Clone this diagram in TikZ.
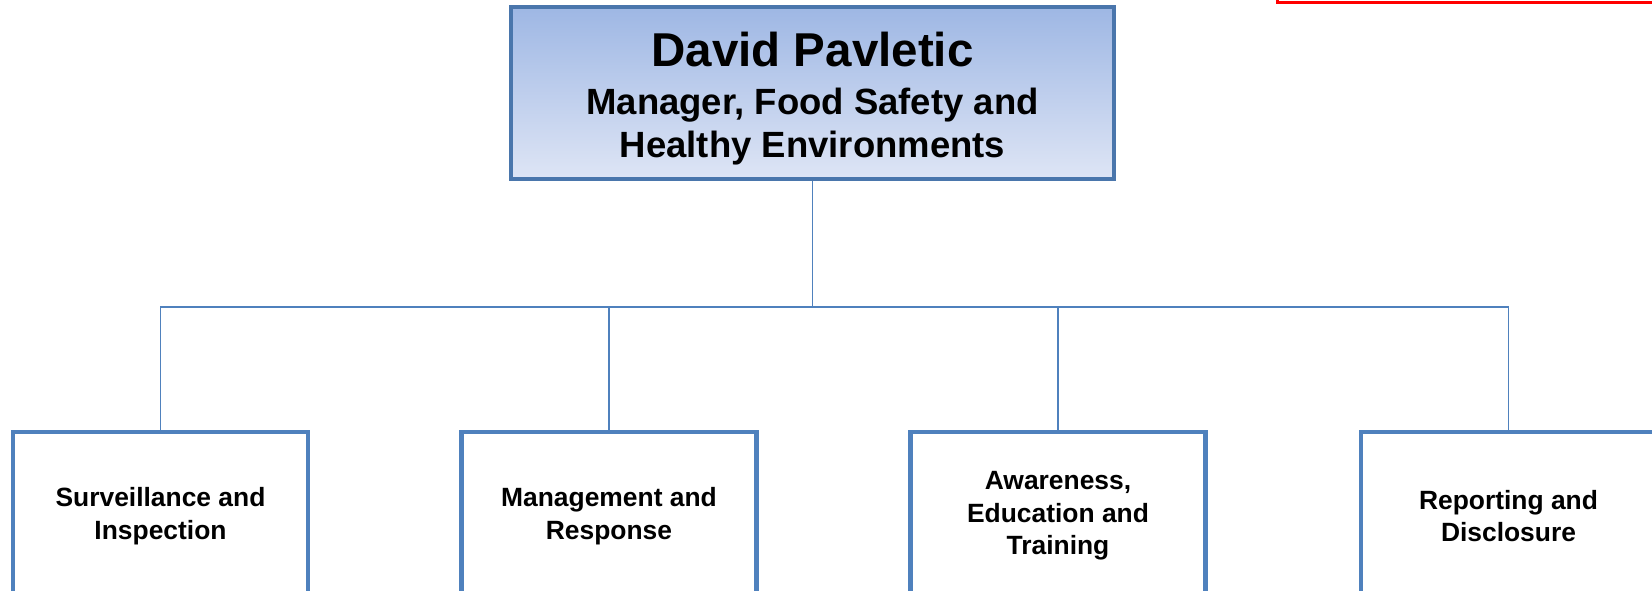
\documentclass[tikz,border=0pt]{standalone}
\usepackage{fontspec}
\setmainfont{Liberation Sans}
\usepackage{tikz}
\usepackage{xcolor}
\usetikzlibrary{
    calc,
    positioning
}
\definecolor{boxblue}{RGB}{79,129,189}
\definecolor{bossedge}{RGB}{74,118,172}
\definecolor{bosstop}{RGB}{158,183,228}
\definecolor{bossbottom}{RGB}{222,229,245}
\newcommand{\bossname}{\fontsize{47.5}{51}\selectfont}
\newcommand{\bosstitle}{\fontsize{36.5}{44}\selectfont}

\begin{document}
\begin{tikzpicture}[x=1pt, y=-1pt,
    boss/.style={rectangle, draw=bossedge, line width=4pt, top color=bosstop, bottom color=bossbottom,
        minimum width=603pt, minimum height=172pt, align=center, font=\bfseries},
    unit/.style={rectangle, draw=boxblue, line width=4.5pt, fill=white,
        minimum width=295pt, minimum height=168pt, align=center,
        font=\bfseries\fontsize{26.4}{32.7}\selectfont},
    link/.style={draw=boxblue, line width=1.5pt}]
                                \useasboundingbox (0, 0) rectangle (1652, 591);
                                \draw[red, line width=3pt] (1277, -10) -- (1277, 3) -- (1665, 3);
                                \node[boss] (pavletic) at (812.5, 93) {\rule{0pt}{46pt}\bossname David Pavletic\\[20pt]
                                    \bosstitle Manager, Food Safety and\\[8pt] \bosstitle Healthy Environments};
                                \coordinate (bar) at (812.5, 307);
                                \node[unit] (survey) at (160.5, 516) {Surveillance and\\ Inspection};
                                \node[unit] (manage) at (609, 516) {Management and\\ Response};
                                \node[unit] (aware) at (1058, 516) {Awareness,\\ Education and\\ Training};
                                \node[unit] (report) at (1508.5, 516) {Reporting and\\ Disclosure};
                                \draw[link] (pavletic) -- (bar);
                                \draw[link]
                                (bar) -| (survey)
                                (bar) -| (manage)
                                (bar) -| (aware)
                                (bar) -| (report);
                            \end{tikzpicture}
\end{document}
